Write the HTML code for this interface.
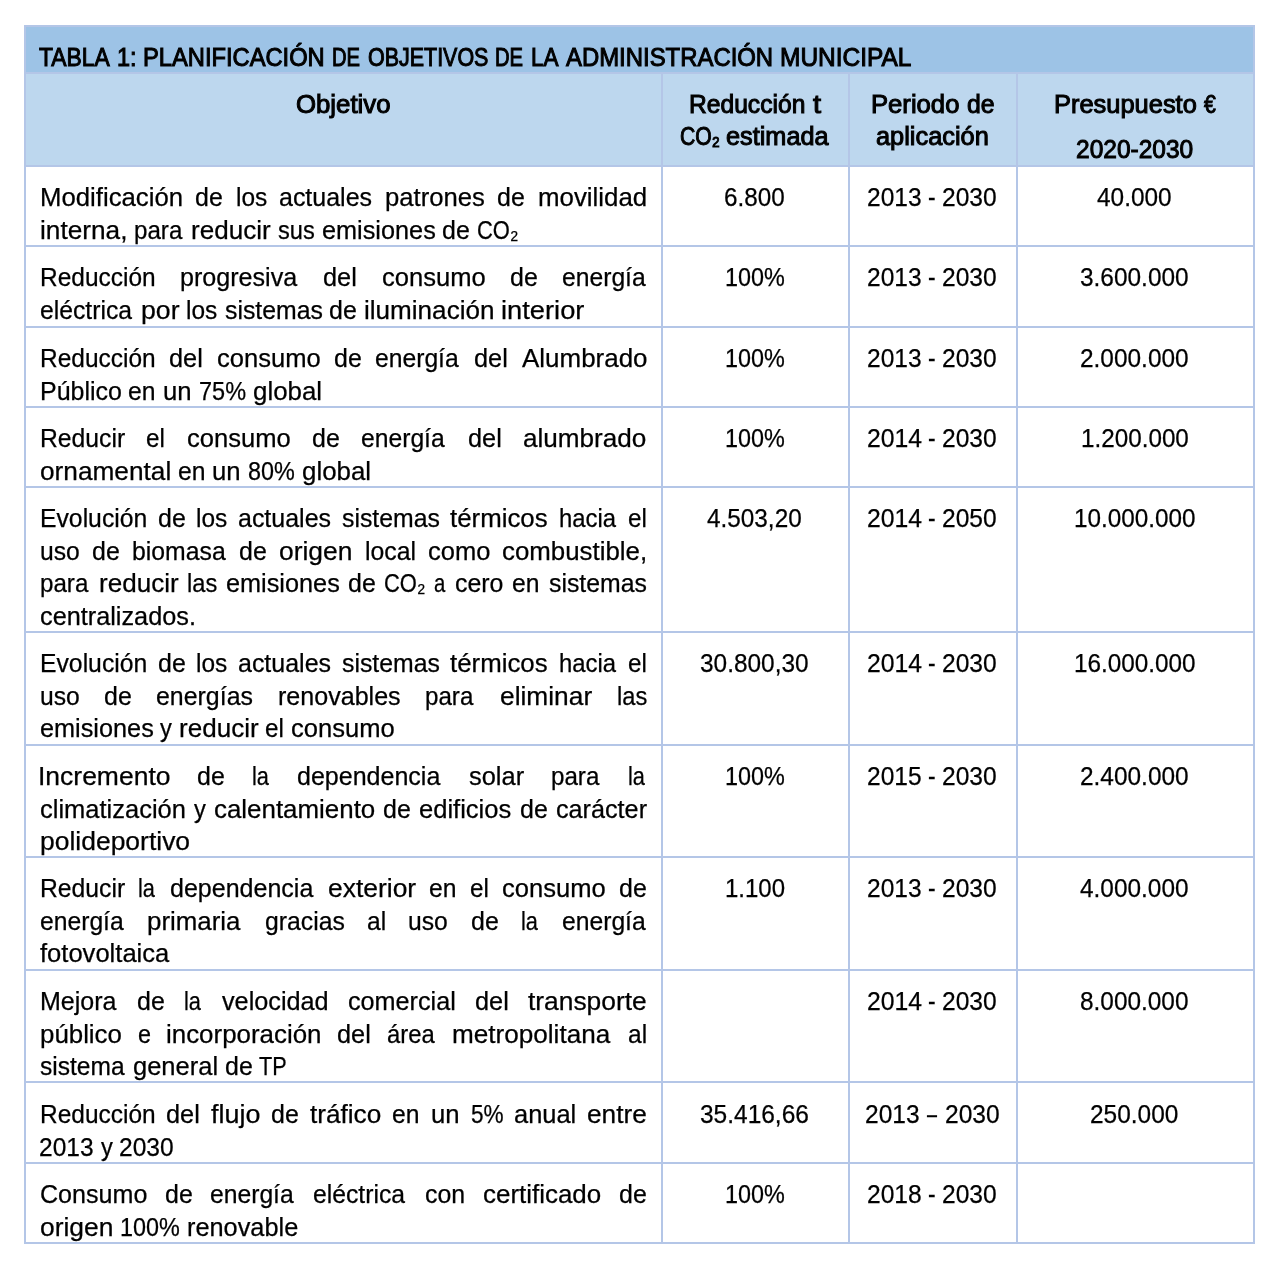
<!DOCTYPE html><html><head><meta charset="utf-8"><style>
html,body{margin:0;padding:0;background:#fff;} body{width:1276px;height:1262px;position:relative;overflow:hidden;font-family:'Liberation Sans', sans-serif;color:#000;}
.r{position:absolute;} #tx{position:absolute;left:0;top:0;width:1276px;height:1262px;will-change:transform;} .t{position:absolute;white-space:nowrap;height:40px;line-height:40px;} .t span{display:inline-block;transform-origin:0 50%;}
.n{font-size:25px;-webkit-text-stroke:0.25px #000;} .b{font-size:25.0px;font-weight:normal;-webkit-text-stroke:1.0px #000;}
</style></head><body>
<div class="r" style="left:24px;top:25px;width:1231px;height:47px;background:#9DC3E6"></div>
<div class="r" style="left:24px;top:72px;width:1231px;height:93px;background:#BDD7EE"></div>
<div class="r" style="left:24px;top:25px;width:1231px;height:2px;background:#B4C6E7"></div>
<div class="r" style="left:24px;top:72px;width:1231px;height:2px;background:#B4C6E7"></div>
<div class="r" style="left:24px;top:165px;width:1231px;height:2px;background:#B4C6E7"></div>
<div class="r" style="left:24px;top:245px;width:1231px;height:2px;background:#B4C6E7"></div>
<div class="r" style="left:24px;top:326px;width:1231px;height:2px;background:#B4C6E7"></div>
<div class="r" style="left:24px;top:406px;width:1231px;height:2px;background:#B4C6E7"></div>
<div class="r" style="left:24px;top:486px;width:1231px;height:2px;background:#B4C6E7"></div>
<div class="r" style="left:24px;top:631px;width:1231px;height:2px;background:#B4C6E7"></div>
<div class="r" style="left:24px;top:744px;width:1231px;height:2px;background:#B4C6E7"></div>
<div class="r" style="left:24px;top:856px;width:1231px;height:2px;background:#B4C6E7"></div>
<div class="r" style="left:24px;top:969px;width:1231px;height:2px;background:#B4C6E7"></div>
<div class="r" style="left:24px;top:1081px;width:1231px;height:2px;background:#B4C6E7"></div>
<div class="r" style="left:24px;top:1162px;width:1231px;height:2px;background:#B4C6E7"></div>
<div class="r" style="left:24px;top:1242px;width:1231px;height:2px;background:#B4C6E7"></div>
<div class="r" style="left:24px;top:25px;width:2px;height:1219px;background:#B4C6E7"></div>
<div class="r" style="left:1253px;top:25px;width:2px;height:1219px;background:#B4C6E7"></div>
<div class="r" style="left:661px;top:72px;width:2px;height:1172px;background:#B4C6E7"></div>
<div class="r" style="left:848px;top:72px;width:2px;height:1172px;background:#B4C6E7"></div>
<div class="r" style="left:1016px;top:72px;width:2px;height:1172px;background:#B4C6E7"></div>
<div id="tx">
<div class="t b" style="left:39.46px;top:36.63px"><span style="transform:scaleX(0.9147)">TABLA</span></div>
<div class="t b" style="left:116.97px;top:36.63px"><span style="transform:scaleX(0.9391)">1:</span></div>
<div class="t b" style="left:142.75px;top:36.63px"><span style="transform:scaleX(0.9479)">PLANIFICACIÓN</span></div>
<div class="t b" style="left:331.94px;top:36.63px"><span style="transform:scaleX(0.8082)">DE</span></div>
<div class="t b" style="left:367.57px;top:36.63px"><span style="transform:scaleX(0.8583)">OBJETIVOS</span></div>
<div class="t b" style="left:495.33px;top:36.63px"><span style="transform:scaleX(0.8082)">DE</span></div>
<div class="t b" style="left:530.87px;top:36.63px"><span style="transform:scaleX(0.9023)">LA</span></div>
<div class="t b" style="left:565.52px;top:36.63px"><span style="transform:scaleX(0.9559)">ADMINISTRACIÓN</span></div>
<div class="t b" style="left:779.59px;top:36.63px"><span style="transform:scaleX(0.9786)">MUNICIPAL</span></div>
<div class="t b" style="left:296.24px;top:83.63px"><span style="transform:scaleX(1.0306)">Objetivo</span></div>
<div class="t b" style="left:688.97px;top:83.53px"><span style="transform:scaleX(0.9848)">Reducción</span></div>
<div class="t b" style="left:812.56px;top:83.53px"><span style="transform:scaleX(1.1616)">t</span></div>
<div class="t b" style="left:679.91px;top:116.03px"><span style="transform:scaleX(0.8458)">CO₂</span></div>
<div class="t b" style="left:726.36px;top:116.03px"><span style="transform:scaleX(1.0109)">estimada</span></div>
<div class="t b" style="left:871.01px;top:83.63px"><span style="transform:scaleX(1.0259)">Periodo</span></div>
<div class="t b" style="left:966.59px;top:83.63px"><span style="transform:scaleX(0.9908)">de</span></div>
<div class="t b" style="left:876.25px;top:116.13px"><span style="transform:scaleX(1.0147)">aplicación</span></div>
<div class="t b" style="left:1054.12px;top:83.63px"><span style="transform:scaleX(1.0176)">Presupuesto</span></div>
<div class="t b" style="left:1204.47px;top:83.63px"><span style="transform:scaleX(0.8504)">€</span></div>
<div class="t b" style="left:1076.07px;top:129.13px"><span style="transform:scaleX(0.9800)">2020-2030</span></div>
<div class="t n" style="left:39.66px;top:177.33px"><span style="transform:scaleX(1.0294)">Modificación</span></div>
<div class="t n" style="left:195.22px;top:177.33px"><span style="transform:scaleX(0.9985)">de</span></div>
<div class="t n" style="left:235.73px;top:177.33px"><span style="transform:scaleX(0.9789)">los</span></div>
<div class="t n" style="left:279.29px;top:177.33px"><span style="transform:scaleX(0.9988)">actuales</span></div>
<div class="t n" style="left:384.86px;top:177.33px"><span style="transform:scaleX(1.0268)">patrones</span></div>
<div class="t n" style="left:497.19px;top:177.33px"><span style="transform:scaleX(0.9985)">de</span></div>
<div class="t n" style="left:537.61px;top:177.33px"><span style="transform:scaleX(1.0343)">movilidad</span></div>
<div class="t n" style="left:39.68px;top:209.83px"><span style="transform:scaleX(1.0487)">interna,</span></div>
<div class="t n" style="left:134.07px;top:209.83px"><span style="transform:scaleX(0.9663)">para</span></div>
<div class="t n" style="left:191.31px;top:209.83px"><span style="transform:scaleX(1.0421)">reducir</span></div>
<div class="t n" style="left:277.79px;top:209.83px"><span style="transform:scaleX(0.9444)">sus</span></div>
<div class="t n" style="left:321.55px;top:209.83px"><span style="transform:scaleX(1.0112)">emisiones</span></div>
<div class="t n" style="left:442.10px;top:209.83px"><span style="transform:scaleX(0.9985)">de</span></div>
<div class="t n" style="left:476.76px;top:209.83px"><span style="transform:scaleX(0.8772)">CO₂</span></div>
<div class="t n" style="left:724.26px;top:177.33px"><span style="transform:scaleX(0.9700)">6.800</span></div>
<div class="t n" style="left:867.25px;top:177.33px"><span style="transform:scaleX(0.9807)">2013</span></div>
<div class="t n" style="left:928.37px;top:177.33px"><span style="transform:scaleX(0.9167)">-</span></div>
<div class="t n" style="left:942.40px;top:177.33px"><span style="transform:scaleX(0.9828)">2030</span></div>
<div class="t n" style="left:1097.33px;top:177.33px"><span style="transform:scaleX(0.9756)">40.000</span></div>
<div class="t n" style="left:39.76px;top:257.33px"><span style="transform:scaleX(0.9788)">Reducción</span></div>
<div class="t n" style="left:180.25px;top:257.33px"><span style="transform:scaleX(1.0042)">progresiva</span></div>
<div class="t n" style="left:323.44px;top:257.33px"><span style="transform:scaleX(1.0118)">del</span></div>
<div class="t n" style="left:381.62px;top:257.33px"><span style="transform:scaleX(1.0221)">consumo</span></div>
<div class="t n" style="left:509.57px;top:257.33px"><span style="transform:scaleX(0.9985)">de</span></div>
<div class="t n" style="left:561.56px;top:257.33px"><span style="transform:scaleX(0.9871)">energía</span></div>
<div class="t n" style="left:39.56px;top:289.83px"><span style="transform:scaleX(0.9886)">eléctrica</span></div>
<div class="t n" style="left:140.60px;top:289.83px"><span style="transform:scaleX(1.0658)">por</span></div>
<div class="t n" style="left:186.15px;top:289.83px"><span style="transform:scaleX(0.9789)">los</span></div>
<div class="t n" style="left:224.53px;top:289.83px"><span style="transform:scaleX(0.9926)">sistemas</span></div>
<div class="t n" style="left:329.35px;top:289.83px"><span style="transform:scaleX(0.9985)">de</span></div>
<div class="t n" style="left:364.00px;top:289.83px"><span style="transform:scaleX(1.0433)">iluminación</span></div>
<div class="t n" style="left:501.40px;top:289.83px"><span style="transform:scaleX(1.0913)">interior</span></div>
<div class="t n" style="left:725.03px;top:257.33px"><span style="transform:scaleX(0.9356)">100%</span></div>
<div class="t n" style="left:867.25px;top:257.33px"><span style="transform:scaleX(0.9807)">2013</span></div>
<div class="t n" style="left:928.37px;top:257.33px"><span style="transform:scaleX(0.9167)">-</span></div>
<div class="t n" style="left:942.40px;top:257.33px"><span style="transform:scaleX(0.9828)">2030</span></div>
<div class="t n" style="left:1080.28px;top:257.33px"><span style="transform:scaleX(0.9769)">3.600.000</span></div>
<div class="t n" style="left:39.76px;top:338.33px"><span style="transform:scaleX(0.9788)">Reducción</span></div>
<div class="t n" style="left:169.22px;top:338.33px"><span style="transform:scaleX(1.0118)">del</span></div>
<div class="t n" style="left:216.70px;top:338.33px"><span style="transform:scaleX(1.0221)">consumo</span></div>
<div class="t n" style="left:333.94px;top:338.33px"><span style="transform:scaleX(0.9985)">de</span></div>
<div class="t n" style="left:375.23px;top:338.33px"><span style="transform:scaleX(0.9871)">energía</span></div>
<div class="t n" style="left:474.25px;top:338.33px"><span style="transform:scaleX(1.0118)">del</span></div>
<div class="t n" style="left:521.51px;top:338.33px"><span style="transform:scaleX(1.0384)">Alumbrado</span></div>
<div class="t n" style="left:39.72px;top:370.83px"><span style="transform:scaleX(0.9992)">Público</span></div>
<div class="t n" style="left:128.36px;top:370.83px"><span style="transform:scaleX(0.9872)">en</span></div>
<div class="t n" style="left:163.13px;top:370.83px"><span style="transform:scaleX(1.0285)">un</span></div>
<div class="t n" style="left:198.61px;top:370.83px"><span style="transform:scaleX(0.9395)">75%</span></div>
<div class="t n" style="left:252.54px;top:370.83px"><span style="transform:scaleX(1.0353)">global</span></div>
<div class="t n" style="left:725.03px;top:338.33px"><span style="transform:scaleX(0.9356)">100%</span></div>
<div class="t n" style="left:867.25px;top:338.33px"><span style="transform:scaleX(0.9807)">2013</span></div>
<div class="t n" style="left:928.37px;top:338.33px"><span style="transform:scaleX(0.9167)">-</span></div>
<div class="t n" style="left:942.40px;top:338.33px"><span style="transform:scaleX(0.9828)">2030</span></div>
<div class="t n" style="left:1080.32px;top:338.33px"><span style="transform:scaleX(0.9766)">2.000.000</span></div>
<div class="t n" style="left:39.74px;top:418.33px"><span style="transform:scaleX(0.9879)">Reducir</span></div>
<div class="t n" style="left:146.22px;top:418.33px"><span style="transform:scaleX(0.9687)">el</span></div>
<div class="t n" style="left:186.85px;top:418.33px"><span style="transform:scaleX(1.0221)">consumo</span></div>
<div class="t n" style="left:312.03px;top:418.33px"><span style="transform:scaleX(0.9985)">de</span></div>
<div class="t n" style="left:361.27px;top:418.33px"><span style="transform:scaleX(0.9871)">energía</span></div>
<div class="t n" style="left:468.22px;top:418.33px"><span style="transform:scaleX(1.0118)">del</span></div>
<div class="t n" style="left:523.41px;top:418.33px"><span style="transform:scaleX(1.0445)">alumbrado</span></div>
<div class="t n" style="left:39.51px;top:450.83px"><span style="transform:scaleX(1.0495)">ornamental</span></div>
<div class="t n" style="left:177.67px;top:450.83px"><span style="transform:scaleX(0.9872)">en</span></div>
<div class="t n" style="left:212.45px;top:450.83px"><span style="transform:scaleX(1.0285)">un</span></div>
<div class="t n" style="left:248.12px;top:450.83px"><span style="transform:scaleX(0.9354)">80%</span></div>
<div class="t n" style="left:301.85px;top:450.83px"><span style="transform:scaleX(1.0353)">global</span></div>
<div class="t n" style="left:725.03px;top:418.33px"><span style="transform:scaleX(0.9356)">100%</span></div>
<div class="t n" style="left:867.24px;top:418.33px"><span style="transform:scaleX(0.9901)">2014</span></div>
<div class="t n" style="left:928.37px;top:418.33px"><span style="transform:scaleX(0.9167)">-</span></div>
<div class="t n" style="left:942.40px;top:418.33px"><span style="transform:scaleX(0.9828)">2030</span></div>
<div class="t n" style="left:1081.07px;top:418.33px"><span style="transform:scaleX(0.9697)">1.200.000</span></div>
<div class="t n" style="left:39.74px;top:498.33px"><span style="transform:scaleX(0.9895)">Evolución</span></div>
<div class="t n" style="left:157.72px;top:498.33px"><span style="transform:scaleX(0.9985)">de</span></div>
<div class="t n" style="left:196.32px;top:498.33px"><span style="transform:scaleX(0.9789)">los</span></div>
<div class="t n" style="left:237.97px;top:498.33px"><span style="transform:scaleX(0.9988)">actuales</span></div>
<div class="t n" style="left:341.60px;top:498.33px"><span style="transform:scaleX(0.9926)">sistemas</span></div>
<div class="t n" style="left:450.24px;top:498.33px"><span style="transform:scaleX(1.0333)">térmicos</span></div>
<div class="t n" style="left:558.72px;top:498.33px"><span style="transform:scaleX(0.9539)">hacia</span></div>
<div class="t n" style="left:627.88px;top:498.33px"><span style="transform:scaleX(0.9687)">el</span></div>
<div class="t n" style="left:39.77px;top:530.83px"><span style="transform:scaleX(0.9870)">uso</span></div>
<div class="t n" style="left:91.89px;top:530.83px"><span style="transform:scaleX(0.9985)">de</span></div>
<div class="t n" style="left:131.94px;top:530.83px"><span style="transform:scaleX(0.9914)">biomasa</span></div>
<div class="t n" style="left:239.44px;top:530.83px"><span style="transform:scaleX(0.9985)">de</span></div>
<div class="t n" style="left:279.11px;top:530.83px"><span style="transform:scaleX(1.0567)">origen</span></div>
<div class="t n" style="left:364.71px;top:530.83px"><span style="transform:scaleX(0.9909)">local</span></div>
<div class="t n" style="left:427.70px;top:530.83px"><span style="transform:scaleX(1.0204)">como</span></div>
<div class="t n" style="left:502.13px;top:530.83px"><span style="transform:scaleX(1.0344)">combustible,</span></div>
<div class="t n" style="left:39.95px;top:563.33px"><span style="transform:scaleX(0.9663)">para</span></div>
<div class="t n" style="left:98.87px;top:563.33px"><span style="transform:scaleX(1.0421)">reducir</span></div>
<div class="t n" style="left:187.14px;top:563.33px"><span style="transform:scaleX(0.9452)">las</span></div>
<div class="t n" style="left:225.82px;top:563.33px"><span style="transform:scaleX(1.0112)">emisiones</span></div>
<div class="t n" style="left:348.05px;top:563.33px"><span style="transform:scaleX(0.9985)">de</span></div>
<div class="t n" style="left:384.40px;top:563.33px"><span style="transform:scaleX(0.8772)">CO₂</span></div>
<div class="t n" style="left:434.04px;top:563.33px"><span style="transform:scaleX(0.8122)">a</span></div>
<div class="t n" style="left:455.44px;top:563.33px"><span style="transform:scaleX(0.9950)">cero</span></div>
<div class="t n" style="left:512.41px;top:563.33px"><span style="transform:scaleX(0.9872)">en</span></div>
<div class="t n" style="left:548.97px;top:563.33px"><span style="transform:scaleX(0.9926)">sistemas</span></div>
<div class="t n" style="left:39.54px;top:595.83px"><span style="transform:scaleX(1.0107)">centralizados.</span></div>
<div class="t n" style="left:707.25px;top:498.33px"><span style="transform:scaleX(0.9730)">4.503,20</span></div>
<div class="t n" style="left:867.24px;top:498.33px"><span style="transform:scaleX(0.9901)">2014</span></div>
<div class="t n" style="left:928.37px;top:498.33px"><span style="transform:scaleX(0.9167)">-</span></div>
<div class="t n" style="left:942.40px;top:498.33px"><span style="transform:scaleX(0.9828)">2050</span></div>
<div class="t n" style="left:1074.19px;top:498.33px"><span style="transform:scaleX(0.9713)">10.000.000</span></div>
<div class="t n" style="left:39.74px;top:643.33px"><span style="transform:scaleX(0.9895)">Evolución</span></div>
<div class="t n" style="left:157.72px;top:643.33px"><span style="transform:scaleX(0.9985)">de</span></div>
<div class="t n" style="left:196.32px;top:643.33px"><span style="transform:scaleX(0.9789)">los</span></div>
<div class="t n" style="left:237.97px;top:643.33px"><span style="transform:scaleX(0.9988)">actuales</span></div>
<div class="t n" style="left:341.60px;top:643.33px"><span style="transform:scaleX(0.9926)">sistemas</span></div>
<div class="t n" style="left:450.24px;top:643.33px"><span style="transform:scaleX(1.0333)">térmicos</span></div>
<div class="t n" style="left:558.72px;top:643.33px"><span style="transform:scaleX(0.9539)">hacia</span></div>
<div class="t n" style="left:627.88px;top:643.33px"><span style="transform:scaleX(0.9687)">el</span></div>
<div class="t n" style="left:39.77px;top:675.83px"><span style="transform:scaleX(0.9870)">uso</span></div>
<div class="t n" style="left:104.24px;top:675.83px"><span style="transform:scaleX(0.9985)">de</span></div>
<div class="t n" style="left:156.30px;top:675.83px"><span style="transform:scaleX(0.9965)">energías</span></div>
<div class="t n" style="left:277.91px;top:675.83px"><span style="transform:scaleX(1.0028)">renovables</span></div>
<div class="t n" style="left:425.28px;top:675.83px"><span style="transform:scaleX(0.9663)">para</span></div>
<div class="t n" style="left:499.74px;top:675.83px"><span style="transform:scaleX(1.0529)">eliminar</span></div>
<div class="t n" style="left:616.76px;top:675.83px"><span style="transform:scaleX(0.9452)">las</span></div>
<div class="t n" style="left:39.54px;top:708.33px"><span style="transform:scaleX(1.0112)">emisiones</span></div>
<div class="t n" style="left:159.91px;top:708.33px"><span style="transform:scaleX(0.9459)">y</span></div>
<div class="t n" style="left:178.81px;top:708.33px"><span style="transform:scaleX(1.0421)">reducir</span></div>
<div class="t n" style="left:265.02px;top:708.33px"><span style="transform:scaleX(0.9687)">el</span></div>
<div class="t n" style="left:290.95px;top:708.33px"><span style="transform:scaleX(1.0221)">consumo</span></div>
<div class="t n" style="left:700.28px;top:643.33px"><span style="transform:scaleX(0.9769)">30.800,30</span></div>
<div class="t n" style="left:867.24px;top:643.33px"><span style="transform:scaleX(0.9901)">2014</span></div>
<div class="t n" style="left:928.37px;top:643.33px"><span style="transform:scaleX(0.9167)">-</span></div>
<div class="t n" style="left:942.40px;top:643.33px"><span style="transform:scaleX(0.9828)">2030</span></div>
<div class="t n" style="left:1074.19px;top:643.33px"><span style="transform:scaleX(0.9713)">16.000.000</span></div>
<div class="t n" style="left:37.91px;top:756.33px"><span style="transform:scaleX(1.0592)">Incremento</span></div>
<div class="t n" style="left:197.11px;top:756.33px"><span style="transform:scaleX(0.9985)">de</span></div>
<div class="t n" style="left:251.97px;top:756.33px"><span style="transform:scaleX(0.8712)">la</span></div>
<div class="t n" style="left:297.22px;top:756.33px"><span style="transform:scaleX(1.0011)">dependencia</span></div>
<div class="t n" style="left:469.25px;top:756.33px"><span style="transform:scaleX(1.0169)">solar</span></div>
<div class="t n" style="left:551.07px;top:756.33px"><span style="transform:scaleX(0.9663)">para</span></div>
<div class="t n" style="left:628.39px;top:756.33px"><span style="transform:scaleX(0.8712)">la</span></div>
<div class="t n" style="left:39.53px;top:788.83px"><span style="transform:scaleX(1.0195)">climatización</span></div>
<div class="t n" style="left:193.66px;top:788.83px"><span style="transform:scaleX(0.9459)">y</span></div>
<div class="t n" style="left:213.77px;top:788.83px"><span style="transform:scaleX(1.0360)">calentamiento</span></div>
<div class="t n" style="left:383.47px;top:788.83px"><span style="transform:scaleX(0.9985)">de</span></div>
<div class="t n" style="left:419.48px;top:788.83px"><span style="transform:scaleX(1.0215)">edificios</span></div>
<div class="t n" style="left:519.97px;top:788.83px"><span style="transform:scaleX(0.9985)">de</span></div>
<div class="t n" style="left:555.99px;top:788.83px"><span style="transform:scaleX(1.0080)">carácter</span></div>
<div class="t n" style="left:39.82px;top:821.33px"><span style="transform:scaleX(1.0587)">polideportivo</span></div>
<div class="t n" style="left:725.03px;top:756.33px"><span style="transform:scaleX(0.9356)">100%</span></div>
<div class="t n" style="left:867.25px;top:756.33px"><span style="transform:scaleX(0.9800)">2015</span></div>
<div class="t n" style="left:928.37px;top:756.33px"><span style="transform:scaleX(0.9167)">-</span></div>
<div class="t n" style="left:942.40px;top:756.33px"><span style="transform:scaleX(0.9828)">2030</span></div>
<div class="t n" style="left:1080.32px;top:756.33px"><span style="transform:scaleX(0.9766)">2.400.000</span></div>
<div class="t n" style="left:39.74px;top:868.33px"><span style="transform:scaleX(0.9879)">Reducir</span></div>
<div class="t n" style="left:138.30px;top:868.33px"><span style="transform:scaleX(0.8712)">la</span></div>
<div class="t n" style="left:170.02px;top:868.33px"><span style="transform:scaleX(1.0011)">dependencia</span></div>
<div class="t n" style="left:328.20px;top:868.33px"><span style="transform:scaleX(1.0576)">exterior</span></div>
<div class="t n" style="left:429.33px;top:868.33px"><span style="transform:scaleX(0.9872)">en</span></div>
<div class="t n" style="left:470.27px;top:868.33px"><span style="transform:scaleX(0.9687)">el</span></div>
<div class="t n" style="left:502.49px;top:868.33px"><span style="transform:scaleX(1.0221)">consumo</span></div>
<div class="t n" style="left:619.27px;top:868.33px"><span style="transform:scaleX(0.9985)">de</span></div>
<div class="t n" style="left:39.56px;top:900.83px"><span style="transform:scaleX(0.9871)">energía</span></div>
<div class="t n" style="left:147.40px;top:900.83px"><span style="transform:scaleX(1.0356)">primaria</span></div>
<div class="t n" style="left:265.02px;top:900.83px"><span style="transform:scaleX(0.9900)">gracias</span></div>
<div class="t n" style="left:366.68px;top:900.83px"><span style="transform:scaleX(0.9806)">al</span></div>
<div class="t n" style="left:408.29px;top:900.83px"><span style="transform:scaleX(0.9870)">uso</span></div>
<div class="t n" style="left:470.50px;top:900.83px"><span style="transform:scaleX(0.9985)">de</span></div>
<div class="t n" style="left:520.83px;top:900.83px"><span style="transform:scaleX(0.8712)">la</span></div>
<div class="t n" style="left:561.53px;top:900.83px"><span style="transform:scaleX(0.9871)">energía</span></div>
<div class="t n" style="left:39.74px;top:933.33px"><span style="transform:scaleX(1.0222)">fotovoltaica</span></div>
<div class="t n" style="left:724.88px;top:868.33px"><span style="transform:scaleX(0.9599)">1.100</span></div>
<div class="t n" style="left:867.25px;top:868.33px"><span style="transform:scaleX(0.9807)">2013</span></div>
<div class="t n" style="left:928.37px;top:868.33px"><span style="transform:scaleX(0.9167)">-</span></div>
<div class="t n" style="left:942.40px;top:868.33px"><span style="transform:scaleX(0.9828)">2030</span></div>
<div class="t n" style="left:1080.39px;top:868.33px"><span style="transform:scaleX(0.9759)">4.000.000</span></div>
<div class="t n" style="left:39.72px;top:981.33px"><span style="transform:scaleX(1.0014)">Mejora</span></div>
<div class="t n" style="left:137.07px;top:981.33px"><span style="transform:scaleX(0.9985)">de</span></div>
<div class="t n" style="left:184.41px;top:981.33px"><span style="transform:scaleX(0.8712)">la</span></div>
<div class="t n" style="left:221.92px;top:981.33px"><span style="transform:scaleX(1.0098)">velocidad</span></div>
<div class="t n" style="left:347.80px;top:981.33px"><span style="transform:scaleX(1.0079)">comercial</span></div>
<div class="t n" style="left:475.22px;top:981.33px"><span style="transform:scaleX(1.0118)">del</span></div>
<div class="t n" style="left:528.39px;top:981.33px"><span style="transform:scaleX(1.0542)">transporte</span></div>
<div class="t n" style="left:39.85px;top:1013.83px"><span style="transform:scaleX(1.0340)">público</span></div>
<div class="t n" style="left:137.51px;top:1013.83px"><span style="transform:scaleX(0.9350)">e</span></div>
<div class="t n" style="left:166.25px;top:1013.83px"><span style="transform:scaleX(1.0359)">incorporación</span></div>
<div class="t n" style="left:337.44px;top:1013.83px"><span style="transform:scaleX(1.0118)">del</span></div>
<div class="t n" style="left:386.89px;top:1013.83px"><span style="transform:scaleX(0.9524)">área</span></div>
<div class="t n" style="left:452.29px;top:1013.83px"><span style="transform:scaleX(1.0446)">metropolitana</span></div>
<div class="t n" style="left:627.67px;top:1013.83px"><span style="transform:scaleX(0.9806)">al</span></div>
<div class="t n" style="left:39.82px;top:1046.33px"><span style="transform:scaleX(0.9818)">sistema</span></div>
<div class="t n" style="left:133.10px;top:1046.33px"><span style="transform:scaleX(1.0199)">general</span></div>
<div class="t n" style="left:225.14px;top:1046.33px"><span style="transform:scaleX(0.9985)">de</span></div>
<div class="t n" style="left:259.33px;top:1046.33px"><span style="transform:scaleX(0.8661)">TP</span></div>
<div class="t n" style="left:867.24px;top:981.33px"><span style="transform:scaleX(0.9901)">2014</span></div>
<div class="t n" style="left:928.37px;top:981.33px"><span style="transform:scaleX(0.9167)">-</span></div>
<div class="t n" style="left:942.40px;top:981.33px"><span style="transform:scaleX(0.9828)">2030</span></div>
<div class="t n" style="left:1080.44px;top:981.33px"><span style="transform:scaleX(0.9755)">8.000.000</span></div>
<div class="t n" style="left:39.76px;top:1094.33px"><span style="transform:scaleX(0.9788)">Reducción</span></div>
<div class="t n" style="left:166.43px;top:1094.33px"><span style="transform:scaleX(1.0118)">del</span></div>
<div class="t n" style="left:211.31px;top:1094.33px"><span style="transform:scaleX(1.0761)">flujo</span></div>
<div class="t n" style="left:271.38px;top:1094.33px"><span style="transform:scaleX(0.9985)">de</span></div>
<div class="t n" style="left:309.98px;top:1094.33px"><span style="transform:scaleX(1.0458)">tráfico</span></div>
<div class="t n" style="left:392.16px;top:1094.33px"><span style="transform:scaleX(0.9872)">en</span></div>
<div class="t n" style="left:430.90px;top:1094.33px"><span style="transform:scaleX(1.0285)">un</span></div>
<div class="t n" style="left:470.80px;top:1094.33px"><span style="transform:scaleX(0.9033)">5%</span></div>
<div class="t n" style="left:514.31px;top:1094.33px"><span style="transform:scaleX(1.0176)">anual</span></div>
<div class="t n" style="left:587.49px;top:1094.33px"><span style="transform:scaleX(1.0498)">entre</span></div>
<div class="t n" style="left:39.30px;top:1126.83px"><span style="transform:scaleX(0.9807)">2013</span></div>
<div class="t n" style="left:100.58px;top:1126.83px"><span style="transform:scaleX(0.9459)">y</span></div>
<div class="t n" style="left:118.97px;top:1126.83px"><span style="transform:scaleX(0.9828)">2030</span></div>
<div class="t n" style="left:700.28px;top:1094.33px"><span style="transform:scaleX(0.9792)">35.416,66</span></div>
<div class="t n" style="left:865.12px;top:1094.33px"><span style="transform:scaleX(0.9807)">2013</span></div>
<div class="t n" style="left:927.34px;top:1094.33px"><span style="transform:scaleX(0.7192)">–</span></div>
<div class="t n" style="left:944.54px;top:1094.33px"><span style="transform:scaleX(0.9828)">2030</span></div>
<div class="t n" style="left:1090.39px;top:1094.33px"><span style="transform:scaleX(0.9776)">250.000</span></div>
<div class="t n" style="left:39.54px;top:1174.33px"><span style="transform:scaleX(1.0034)">Consumo</span></div>
<div class="t n" style="left:164.66px;top:1174.33px"><span style="transform:scaleX(0.9985)">de</span></div>
<div class="t n" style="left:210.20px;top:1174.33px"><span style="transform:scaleX(0.9871)">energía</span></div>
<div class="t n" style="left:313.47px;top:1174.33px"><span style="transform:scaleX(0.9886)">eléctrica</span></div>
<div class="t n" style="left:425.27px;top:1174.33px"><span style="transform:scaleX(0.9947)">con</span></div>
<div class="t n" style="left:483.37px;top:1174.33px"><span style="transform:scaleX(1.0368)">certificado</span></div>
<div class="t n" style="left:619.25px;top:1174.33px"><span style="transform:scaleX(0.9985)">de</span></div>
<div class="t n" style="left:39.50px;top:1206.83px"><span style="transform:scaleX(1.0567)">origen</span></div>
<div class="t n" style="left:120.13px;top:1206.83px"><span style="transform:scaleX(0.9356)">100%</span></div>
<div class="t n" style="left:187.26px;top:1206.83px"><span style="transform:scaleX(1.0130)">renovable</span></div>
<div class="t n" style="left:725.03px;top:1174.33px"><span style="transform:scaleX(0.9356)">100%</span></div>
<div class="t n" style="left:867.25px;top:1174.33px"><span style="transform:scaleX(0.9837)">2018</span></div>
<div class="t n" style="left:928.37px;top:1174.33px"><span style="transform:scaleX(0.9167)">-</span></div>
<div class="t n" style="left:942.40px;top:1174.33px"><span style="transform:scaleX(0.9828)">2030</span></div>
</div></body></html>
